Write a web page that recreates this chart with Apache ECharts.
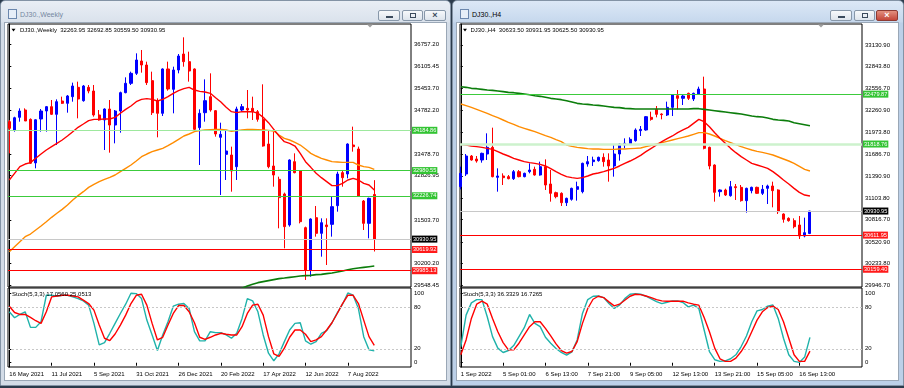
<!DOCTYPE html>
<html><head><meta charset="utf-8">
<script src="https://cdn.jsdelivr.net/npm/echarts@6.0.0/dist/echarts.min.js"></script>
<style>
html,body{margin:0;padding:0;width:904px;height:388px;overflow:hidden;background:#2b3b4c;}
#wrap{position:relative;width:904px;height:388px;}
.win{position:absolute;top:0;height:386px;box-sizing:border-box;border:1px solid #8393a5;border-radius:5px 5px 0 0;}
#wl{left:0;width:451px;background:linear-gradient(#e9eef5 0,#dae2ec 21px,#d3dce7 22px,#d3dce7 100%);}
#wr{left:452px;width:452px;background:linear-gradient(#dce8f6 0,#c6d8ed 21px,#bcd0e8 22px,#bcd0e8 100%);}
.client{position:absolute;left:3px;top:21px;width:443px;height:359px;background:#fff;border:1px solid #9aa7b6;box-sizing:border-box;}
.ttl{position:absolute;left:19px;top:9px;font:7px "Liberation Sans",Arial,sans-serif;line-height:10px;white-space:nowrap;}
.ico{position:absolute;left:7px;top:8px;width:9px;height:10px;border:1px solid #6b87ad;background:#e6eef8;box-sizing:border-box}
.btn{position:absolute;top:9px;height:11px;box-sizing:border-box;border:1px solid #8797a9;border-radius:2px;background:linear-gradient(#f7f9fb,#dde4ec);}
.btn i{position:absolute;display:block}
.btn b{position:absolute;left:0;right:0;top:-1px;text-align:center;font:bold 9px "Liberation Sans",Arial,sans-serif;line-height:11px;color:#3a4a5c}
.cl{background:linear-gradient(#e3907f,#c4473a);border-color:#8e3b33}
.cl b{color:#fff}
#c{position:absolute;left:0;top:0;width:904px;height:388px;}
</style></head><body>
<div id="wrap">
 <div class="win" id="wl">
  <div class="ico"></div><div class="ttl" style="color:#7587a0">DJ30.,Weekly</div>
  <div class="btn" style="left:377px;width:22px"><i style="left:7px;top:5px;width:7px;height:2px;background:#3a4a5c"></i></div>
  <div class="btn" style="left:401px;width:21px"><i style="left:7px;top:2px;width:6px;height:5px;border:1px solid #3a4a5c;box-sizing:border-box"></i></div>
  <div class="btn" style="left:423px;width:22px"><b>×</b></div>
  <div class="client"></div>
 </div>
 <div class="win" id="wr">
  <div class="ico"></div><div class="ttl" style="color:#000">DJ30.,H4</div>
  <div class="btn" style="left:377px;width:22px"><i style="left:7px;top:5px;width:7px;height:2px;background:#3a4a5c"></i></div>
  <div class="btn" style="left:401px;width:21px"><i style="left:7px;top:2px;width:6px;height:5px;border:1px solid #3a4a5c;box-sizing:border-box"></i></div>
  <div class="btn cl" style="left:423px;width:22px"><b>×</b></div>
  <div class="client"></div>
 </div>
 <div id="c"></div>
</div>
<script>
// ---------- Weekly chart data ----------
const wTickLabels = ['16 May 2021','11 Jul 2021','5 Sep 2021','31 Oct 2021','26 Dec 2021','20 Feb 2022','17 Apr 2022','12 Jun 2022','7 Aug 2022'];
const wOpen = [34443,34194,34573,34792,34513,33210,34523,34762,34892,34663,
 35061,34992,35191,35470,35071,35470,35360,34643,34493,34822,
 34343,34762,35311,35590,35889,36258,36138,35670,35071,34693,
 36019,35410,35989,36467,36238,36019,34264,34712,35191,34772,
 33975,33466,33446,33097,34792,34842,34842,34742,34513,33775,
 33117,32718,32280,31353,33247,32978,31273,30007,31572,31103,
 31353,31372,31931,32918,32878,33745,33626,32070,31402,32263.95];
const wHigh = [34493,34590,34842,34842,34540,34513,34822,34912,35091,35111,
 35191,35241,35610,35640,35540,35540,35540,34792,34842,35091,
 34792,35341,35769,35939,36487,36587,36238,35939,35141,36038,
 36238,36088,36467,36966,36537,36038,34812,35709,35889,34792,
 34413,34194,33696,34892,34972,35390,35191,34792,35560,34194,
 34144,32798,32320,33317,33496,32998,31303,31552,31921,31552,
 31552,32200,32948,32998,33795,34294,33696,32100,32170,32692.85];
const wLow = [33496,34144,34443,34463,33180,33048,34144,34144,34643,33745,
 34972,34712,35041,34543,35041,35291,34593,34473,33596,33516,
 33795,34114,35291,35540,35839,35909,35540,34643,33975,34613,
 35370,34693,35889,36088,35640,34194,33147,34443,34742,33995,
 32250,32699,32349,32699,34742,34543,34493,34443,33696,33048,
 32499,31253,30655,31303,32898,31402,29708,29807,31004,30405,
 30156,31004,31751,32499,32748,33546,32200,31203,30954,30559.50];
const wClose = [34244,34560,34762,34463,33200,34500,34762,34892,34663,35041,
 34992,35211,35510,35121,35510,35360,34643,34493,34822,34343,
 34762,35311,35590,35889,36288,36138,35610,34712,34693,36019,
 35420,35989,36407,36238,35959,34214,34693,35071,34792,34074,
 34064,33566,32968,34822,34892,34792,34742,34513,33715,33097,
 32848,32170,31303,33297,32918,31452,30007,31532,31103,31422,
 31303,31901,32878,32768,33775,33696,32220,31402,32150,30930.95];
const wMaFast = [32699,32898,33097,33177,33217,33347,33476,33596,33696,33795,
 33895,34015,34144,34274,34373,34473,34513,34513,34523,34523,
 34573,34693,34812,34912,35041,35111,35131,35111,35061,35111,
 35191,35291,35370,35430,35470,35390,35350,35330,35291,35161,
 35032,34872,34742,34712,34742,34742,34742,34693,34573,34413,
 34214,34015,33845,33795,33715,33496,33247,33077,32898,32768,
 32649,32529,32529,32599,32699,32748,32699,32599,32549,32399];
const wMaMid = [30555,30705,30854,31004,31083,31203,31323,31452,31582,31702,
 31821,31951,32100,32230,32349,32479,32569,32649,32718,32778,
 32848,32948,33048,33147,33267,33396,33476,33546,33596,33646,
 33725,33815,33915,34015,34074,34144,34174,34194,34204,34214,
 34214,34194,34154,34174,34194,34214,34214,34204,34194,34184,
 34164,34044,33945,33895,33825,33745,33626,33496,33416,33347,
 33297,33247,33237,33227,33227,33227,33147,33097,33077,33017];
const wMaSlow = Array(44).fill(null).concat([29458,29528,29578,29628,29658,29688,29718,29748,29767,29787,
 29807,29827,29837,29847,29867,29877,29897,29917,29947,29977,30016,30046,30066,30086,30106,30126]);
const wStochMain = [73.0,64.5,69.2,73.0,50.7,50.7,58.8,96.7,96.7,95.3,
 96.7,96.7,94.3,91.9,88.6,82.5,56.4,25.6,28.9,42.2,
 56.4,70.6,83.9,99.5,99.1,91.9,61.1,39.8,17.5,39.8,
 58.8,81.0,83.9,84.8,77.7,44.5,31.3,31.3,44.5,43.1,
 43.1,39.8,35.1,42.2,63.5,91.9,88.6,73.0,39.8,13.7,
 2.8,12.8,30.3,46.9,56.4,57.3,31.3,26.5,30.3,42.2,
 46.0,57.3,71.6,83.9,100,96.7,77.7,37.4,18.5,17.056];
const wStochSignal = [81.0,72.0,69.2,69.2,64.9,60.2,56.4,73.0,94.3,95.7,
 96.7,96.7,95.7,94.3,89.6,84.8,75.4,54.0,35.1,31.8,
 41.2,54.0,68.2,84.8,96.7,98.1,82.5,56.4,32.7,36.5,
 54.0,70.6,82.0,82.0,73.0,57.3,36.5,33.6,36.5,39.8,
 42.2,40.8,39.8,39.8,51.7,70.6,82.5,83.9,68.2,37.4,
 12.8,9.0,20.9,36.5,46.9,46.9,40.8,30.3,32.7,37.4,
 46.9,57.3,70.6,84.8,96.7,96.7,84.8,61.1,37.4,25.0513];
const wPriceTicks = [36757.20,36105.45,35453.70,34782.20,33478.70,32826.95,31503.70,30200.20,29548.45];
const wLevels = [34184.86,32980.55,32226.74,30930.95,30619.92,29985.13];
const wLevelKinds = ['light','green','green','bid','red','red'];

// ---------- H4 chart data ----------
const hTickLabels = ['1 Sep 2022','5 Sep 01:00','6 Sep 13:00','7 Sep 21:00','9 Sep 05:00','12 Sep 13:00','13 Sep 21:00','15 Sep 05:00','16 Sep 13:00'];
const hOpen = [31253.8,31421.7,31660.1,31620.4,31607.2,31686.6,31774.9,31377.5,31395.2,31386.3,
 31359.8,31452.6,31386.3,31452.6,31483.5,31408.4,31518.8,31289.2,31174.4,31165.5,
 31041.9,31086.1,31218.5,31187.6,31554.2,31585.1,31598.3,31642.5,31607.2,31527.7,
 31686.6,31805.9,31819.1,31863.3,31995.8,32004.7,32172.5,32278.5,32216.6,32203.4,
 32305.0,32459.5,32424.2,32490.5,32415.4,32481.6,32547.9,31774.9,31540.9,31187.6,
 31209.7,31134.6,31253.8,31245.0,31068.4,31200.8,31245.0,31165.5,31231.7,31262.7,
 31209.7,30891.7,30834.3,30803.4,30746.0,30600.2,30633.50];
const hHigh = [31518.8,31686.6,31673.4,31660.1,31704.3,31960.5,32035.6,31496.7,31430.5,31408.4,
 31474.6,31474.6,31439.3,31563.0,31518.8,31585.1,31616.0,31474.6,31187.6,31178.8,
 31108.1,31240.6,31320.1,31571.8,31660.1,31651.3,31651.3,31695.5,31695.5,31819.1,
 31827.9,31894.2,31907.5,32026.8,32057.6,32190.1,32247.6,32322.6,32225.5,32380.1,
 32477.2,32534.6,32468.4,32499.3,32499.3,32578.8,32711.3,31783.8,31549.7,31218.5,
 31227.3,31328.9,31289.2,31275.9,31240.6,31253.8,31253.8,31275.9,31280.3,31320.1,
 31218.5,30900.5,30847.6,30834.3,30865.2,30843.2,30931.95];
const hLow = [31218.5,31395.2,31598.3,31571.8,31571.8,31607.2,31377.5,31187.6,31275.9,31351.0,
 31342.2,31377.5,31377.5,31430.5,31399.6,31399.6,31209.7,31055.1,31099.3,30997.7,
 30997.7,31068.4,31068.4,31165.5,31518.8,31527.7,31585.1,31518.8,31320.1,31386.3,
 31598.3,31761.7,31805.9,31850.1,31925.2,31995.8,32128.3,32172.5,32146.0,32190.1,
 32190.1,32278.5,32335.9,32402.2,32388.9,32468.4,31748.5,31483.5,31055.1,31121.4,
 31130.2,31121.4,31077.2,31055.1,30909.4,31165.5,31156.7,31143.4,31024.2,30980.0,
 30891.7,30776.9,30790.2,30701.8,30560.5,30582.6,30625.50];
const hClose = [31430.5,31660.1,31607.2,31593.9,31695.5,31774.9,31386.3,31395.2,31373.1,31359.8,
 31452.6,31386.3,31430.5,31474.6,31408.4,31518.8,31275.9,31165.5,31121.4,31041.9,
 31099.3,31231.7,31253.8,31563.0,31585.1,31607.2,31642.5,31585.1,31527.7,31686.6,
 31819.1,31827.9,31881.0,32004.7,32013.5,32181.3,32146.0,32212.2,32207.8,32305.0,
 32468.4,32424.2,32455.1,32424.2,32490.5,32547.9,31761.7,31527.7,31178.8,31209.7,
 31143.4,31253.8,31240.6,31068.4,31231.7,31245.0,31165.5,31218.5,31262.7,31200.8,
 30922.6,30821.1,30803.4,30723.9,30600.2,30644.4,30930.95];
const hMaFast = [31814.7,31805.9,31792.6,31783.8,31774.9,31761.7,31748.5,31717.6,31686.6,31660.1,
 31629.2,31607.2,31585.1,31571.8,31563.0,31549.7,31527.7,31492.3,31452.6,31417.3,
 31386.3,31373.1,31364.2,31373.1,31395.2,31421.7,31434.9,31452.6,31474.6,31496.7,
 31527.7,31563.0,31593.9,31629.2,31668.9,31717.6,31761.7,31805.9,31850.1,31889.8,
 31925.2,31969.3,32004.7,32040.0,32093.0,32146.0,32115.1,32048.8,31969.3,31894.2,
 31827.9,31761.7,31704.3,31651.3,31607.2,31563.0,31540.9,31518.8,31496.7,31452.6,
 31399.6,31342.2,31289.2,31231.7,31178.8,31143.4,31130.2];
const hMaMid = [32349.1,32327.0,32305.0,32278.5,32252.0,32225.5,32194.5,32168.0,32137.1,32106.2,
 32079.7,32048.8,32026.8,32004.7,31982.6,31956.1,31929.6,31907.5,31876.6,31850.1,
 31805.9,31788.2,31774.9,31766.1,31757.3,31752.9,31752.9,31748.5,31748.5,31748.5,
 31752.9,31752.9,31757.3,31761.7,31766.1,31783.8,31801.5,31819.1,31836.8,31854.5,
 31872.1,31889.8,31907.5,31925.2,31947.3,31969.3,31969.3,31951.7,31925.2,31894.2,
 31863.3,31836.8,31810.3,31783.8,31761.7,31739.6,31722.0,31708.7,31691.0,31673.4,
 31646.9,31620.4,31593.9,31563.0,31523.3,31483.5,31461.4];
const hMaSlow = [32578.8,32570.0,32556.7,32552.3,32543.5,32534.6,32530.2,32521.4,32512.6,32503.7,
 32499.3,32490.5,32481.6,32472.8,32459.5,32450.7,32437.5,32424.2,32415.4,32406.6,
 32393.3,32375.7,32358.0,32349.1,32344.7,32335.9,32331.5,32322.6,32313.8,32305.0,
 32300.6,32291.7,32287.3,32282.9,32282.9,32282.9,32282.9,32282.9,32282.9,32282.9,
 32282.9,32282.9,32282.9,32282.9,32287.3,32287.3,32278.5,32269.6,32260.8,32252.0,
 32243.2,32234.3,32225.5,32216.6,32203.4,32190.1,32181.3,32176.9,32163.6,32146.0,
 32137.1,32132.7,32123.9,32101.8,32088.6,32075.3,32062.1];
const hStochMain = [23.2,68.2,85.8,90.5,90.5,65.9,37.4,20.9,14.7,17.5,
 24.6,37.4,50.2,69.2,56.4,51.7,36.5,28.0,20.4,14.7,
 10.9,15.6,32.7,70.6,90.5,95.3,95.7,93.4,84.8,77.7,
 82.5,91.9,98.1,99.1,98.1,95.3,91.5,87.7,84.8,86.7,
 88.6,88.6,86.3,80.1,82.5,77.7,46.9,16.1,4.3,1.9,
 2.8,5.7,11.4,23.2,38.4,58.8,74.4,76.3,81.0,82.9,
 63.5,35.1,11.4,1.9,0.5,8.1,36.3329];
const hStochSignal = [11.4,32.7,63.5,83.9,88.2,83.9,63.5,44.5,28.9,18.5,
 18.5,28.0,39.8,51.7,58.8,58.8,49.3,38.4,27.0,17.5,
 13.7,16.1,30.3,56.4,77.7,91.0,95.3,93.4,87.2,81.5,
 83.9,89.6,95.3,98.1,97.6,95.7,93.4,90.5,88.6,88.2,
 88.2,88.2,88.2,85.8,83.9,82.5,64.9,44.5,20.9,5.7,
 1.9,1.9,6.6,16.1,28.0,44.5,61.1,73.0,79.1,81.0,
 76.3,58.8,35.1,11.4,1.9,1.9,16.7265];
const hPriceTicks = [33130.90,32843.80,32556.70,32260.90,31973.80,31686.70,31390.90,31103.80,30816.70,30520.90,30233.80,29946.70];
const hLevels = [32479.87,31818.76,30930.95,30611.95,30159.40];
const hLevelKinds = ['green','light','bid','red','red'];

const stochTicks = [0,20,80,100];
const stochLevels = [20,80];
const wHeader = 'DJ30.,Weekly  32263.95 32692.85 30559.50 30930.95';
const hHeader = 'DJ30.,H4  30633.50 30931.95 30625.50 30930.95';
const wStochHeader = 'Stoch(5,3,3) 17.0560 25.0513';
const hStochHeader = 'Stoch(5,3,3) 36.3329 16.7265';

// ---------- styling ----------
const FONT = '"Liberation Sans", Arial, sans-serif';
const kindStyle = {
  light: {line:'#9de89d', width:1, tag:'#33c433'},
  lightH: {line:'#cdf2cd', width:2.5, tag:'#33c433'},
  green: {line:'#3ccb3c', width:1, tag:'#33c433'},
  bid:   {line:'#c8c8c8', width:1, tag:'#000000'},
  red:   {line:'#ff0000', width:1, tag:'#ff1a1a'}
};
function levelMarks(levels, kinds, lightKey){
  return {
    symbol:['none','none'], silent:true, animation:false,
    label:{show:true, position:'end', distance:1, color:'#fff', fontSize:5.6, fontFamily:FONT,
           lineHeight:6, padding:[1,1,0,1], formatter:p=>Number(p.value).toFixed(2)},
    data: levels.map((v,k)=>{
      const s = kindStyle[kinds[k]==='light'?lightKey:kinds[k]];
      return {yAxis:v, lineStyle:{color:s.line, width:s.width, type:'solid'}, label:{backgroundColor:s.tag}};
    })
  };
}
const ohlc = (o,h,l,c)=>o.map((v,i)=>[i,v,c[i],l[i],h[i]]);
const pts = arr=>arr.map((v,i)=>[i,v]).filter(p=>p[1]!==null);
function candle(xi, data, levels, kinds, lightKey){
  return {type:'candlestick', xAxisIndex:xi, yAxisIndex:xi, data, encode:{x:0,y:[1,2,3,4]},
    barWidth:2.6, z:2, animation:false, clip:true,
    itemStyle:{color:'#0000ff', color0:'#ff0000', borderColor:'#0000ff', borderColor0:'#ff0000', borderColorDoji:'#ff0000', borderWidth:1},
    markLine: levelMarks(levels, kinds, lightKey)};
}
function line(xi, arr, color, width, z){
  return {type:'line', xAxisIndex:xi, yAxisIndex:xi, data:pts(arr), symbol:'none', showSymbol:false,
    lineStyle:{color, width}, z:z||3, animation:false, clip:true, silent:true};
}
function stochSeries(xi, main, sig){
  return [
    Object.assign(line(xi, main, '#20b2aa', 1.4, 3), {markLine:{symbol:['none','none'], silent:true, animation:false,
      label:{show:false}, lineStyle:{color:'#c8c8c8', type:[2,2], width:1}, data:stochLevels.map(v=>({yAxis:v}))}}),
    line(xi, sig, '#ff0000', 1.4, 4)
  ];
}
function priceAxis(gi, min, max, ticks){
  return {type:'value', gridIndex:gi, position:'right', min, max, scale:true,
    axisLine:{show:true, lineStyle:{color:'#000', width:1}},
    axisTick:{show:true, length:2, customValues:ticks, lineStyle:{color:'#000'}},
    axisLabel:{show:true, customValues:ticks, margin:3, fontSize:6, fontFamily:FONT, color:'#000',
      formatter:v=>Number(v).toFixed(2)},
    splitLine:{show:false}};
}
function stochAxis(gi){
  return {type:'value', gridIndex:gi, position:'right', min:-6.1, max:107.1,
    axisLine:{show:true, lineStyle:{color:'#000', width:1}},
    axisTick:{show:true, length:2, customValues:stochTicks, lineStyle:{color:'#000'}},
    axisLabel:{show:true, customValues:stochTicks, margin:3, fontSize:6, fontFamily:FONT, color:'#000'},
    splitLine:{show:false}};
}
function timeAxis(gi, min, max, labels, show){
  const vals = labels.map((_,k)=>k*8);
  return {type:'value', gridIndex:gi, min, max,
    axisLine:{show:false},
    axisTick:{show:show, length:3, customValues:vals, lineStyle:{color:'#000'}},
    axisLabel:{show:show, customValues:vals, margin:4, fontSize:6, fontFamily:FONT, color:'#000', align:'left',
      formatter:v=>labels[Math.round(v/8)]||''},
    splitLine:{show:false}};
}
const gridStyle = {show:true, backgroundColor:'#fff', borderColor:'#000', borderWidth:1};

const option = {
  animation:false,
  backgroundColor:'transparent',
  grid:[
    Object.assign({left:8, top:24, width:403, height:263}, gridStyle),
    Object.assign({left:8, top:288, width:403, height:79}, gridStyle),
    Object.assign({left:460, top:24, width:402, height:263}, gridStyle),
    Object.assign({left:460, top:288, width:402, height:79}, gridStyle)
  ],
  xAxis:[
    timeAxis(0, -0.246, 75.94, wTickLabels, false),
    timeAxis(1, -0.246, 75.94, wTickLabels, true),
    timeAxis(2, -0.151, 75.84, hTickLabels, false),
    timeAxis(3, -0.151, 75.84, hTickLabels, true)
  ],
  yAxis:[
    priceAxis(0, 29498.1, 37364.4, wPriceTicks),
    stochAxis(1),
    priceAxis(2, 29924.4, 33409.2, hPriceTicks),
    stochAxis(3)
  ],
  series:[
    candle(0, ohlc(wOpen,wHigh,wLow,wClose), wLevels, wLevelKinds, 'light'),
    line(0, wMaSlow, '#0b7d0b', 1.6, 3),
    line(0, wMaMid, '#ff8c00', 1.4, 3),
    line(0, wMaFast, '#ff0000', 1.4, 4),
    ...stochSeries(1, wStochMain, wStochSignal),
    candle(2, ohlc(hOpen,hHigh,hLow,hClose), hLevels, hLevelKinds, 'lightH'),
    line(2, hMaSlow, '#0b7d0b', 1.6, 3),
    line(2, hMaMid, '#ff8c00', 1.4, 3),
    line(2, hMaFast, '#ff0000', 1.4, 4),
    ...stochSeries(3, hStochMain, hStochSignal)
  ],
  graphic:[
    {type:'polygon', z:100, shape:{points:[[11.5,28.8],[15.5,28.8],[13.5,31.6]]}, style:{fill:'#000'}},
    {type:'text', z:100, x:20, y:30.5, style:{text:wHeader, font:'6px '+FONT, fill:'#000', verticalAlign:'middle'}},
    {type:'polygon', z:100, shape:{points:[[463,28.8],[467,28.8],[465,31.6]]}, style:{fill:'#000'}},
    {type:'text', z:100, x:470.5, y:30.5, style:{text:hHeader, font:'6px '+FONT, fill:'#000', verticalAlign:'middle'}},
    {type:'text', z:100, x:12, y:294.5, style:{text:wStochHeader, font:'6px '+FONT, fill:'#000', verticalAlign:'middle'}},
    {type:'text', z:100, x:463, y:294.5, style:{text:hStochHeader, font:'6px '+FONT, fill:'#000', verticalAlign:'middle'}},
    {type:'polygon', z:100, shape:{points:[[367,24.5],[373,24.5],[370,27.5]]}, style:{fill:'#a0a0a0'}},
    {type:'polygon', z:100, shape:{points:[[818,24.5],[824,24.5],[821,27.5]]}, style:{fill:'#a0a0a0'}}
  ]
};
const chart = echarts.init(document.getElementById('c'), null, {renderer:'canvas', width:904, height:388});
chart.setOption(option);
</script>
</body></html>
